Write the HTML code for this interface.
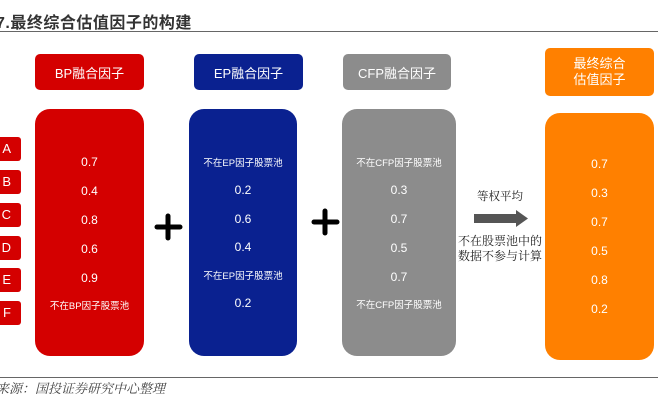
<!DOCTYPE html>
<html><head><meta charset="utf-8"><style>
body{margin:0;width:665px;height:408px;background:#fff;position:relative;overflow:hidden;font-family:"Liberation Sans","Noto Sans CJK SC",sans-serif}
.a{position:absolute}
.t{position:absolute;left:0;width:100%;text-align:center;color:#fff;transform:translateY(-50%);white-space:nowrap}
.v{font-size:12px}
.n{font-size:9.5px}
.hd{position:absolute;color:#fff;font-size:13px;display:flex;align-items:center;justify-content:center;border-radius:5px}
.lb{position:absolute;left:-20px;width:41px;height:24px;background:#d40000;border-radius:3px;color:#fff;font-size:13px;line-height:24px;text-align:right;box-sizing:border-box;padding-right:10px}
</style></head><body>
<div class="a" style="left:-4px;top:9px;font-size:16px;font-weight:bold;color:#333;letter-spacing:0.5px">7.最终综合估值因子的构建</div>
<div class="a" style="left:0;top:31px;width:658px;height:1px;background:#666"></div>

<div class="hd" style="left:35px;top:54px;width:109px;height:36px;background:#d40000">BP融合因子</div>
<div class="hd" style="left:194px;top:54px;width:109px;height:36px;background:#0a2190">EP融合因子</div>
<div class="hd" style="left:343px;top:54px;width:108px;height:36px;background:#8c8c8c">CFP融合因子</div>
<div class="hd" style="left:545px;top:48px;width:109px;height:48px;background:#ff8000;flex-direction:column;line-height:16px">最终综合<br>估值因子</div>

<div class="lb" style="top:137px">A</div>
<div class="lb" style="top:170px">B</div>
<div class="lb" style="top:203px">C</div>
<div class="lb" style="top:236px">D</div>
<div class="lb" style="top:268px">E</div>
<div class="lb" style="top:301px">F</div>

<div class="a" style="left:35px;top:109px;width:109px;height:247px;background:#d40000;border-radius:15px">
<div class="t v" style="top:53px">0.7</div><div class="t v" style="top:82px">0.4</div><div class="t v" style="top:111px">0.8</div><div class="t v" style="top:140px">0.6</div><div class="t v" style="top:169px">0.9</div><div class="t n" style="top:196px">不在BP因子股票池</div></div>

<div class="a" style="left:189px;top:109px;width:108px;height:247px;background:#0a2190;border-radius:15px">
<div class="t n" style="top:53px">不在EP因子股票池</div><div class="t v" style="top:81px">0.2</div><div class="t v" style="top:110px">0.6</div><div class="t v" style="top:138px">0.4</div><div class="t n" style="top:166px">不在EP因子股票池</div><div class="t v" style="top:194px">0.2</div></div>

<div class="a" style="left:342px;top:109px;width:114px;height:247px;background:#8c8c8c;border-radius:15px">
<div class="t n" style="top:53px">不在CFP因子股票池</div><div class="t v" style="top:81px">0.3</div><div class="t v" style="top:110px">0.7</div><div class="t v" style="top:139px">0.5</div><div class="t v" style="top:168px">0.7</div><div class="t n" style="top:195px">不在CFP因子股票池</div></div>

<div class="a" style="left:545px;top:113px;width:109px;height:247px;background:#ff8000;border-radius:15px">
<div class="t v" style="top:51px">0.7</div><div class="t v" style="top:80px">0.3</div><div class="t v" style="top:109px">0.7</div><div class="t v" style="top:138px">0.5</div><div class="t v" style="top:167px">0.8</div><div class="t v" style="top:196px">0.2</div></div>

<svg class="a" style="left:0;top:0" width="665" height="408">
<g stroke="#000" stroke-width="5" stroke-linecap="round"><line x1="157" y1="227" x2="180" y2="227"/><line x1="168" y1="216" x2="168" y2="238"/>
<line x1="314" y1="222" x2="337" y2="222"/><line x1="325" y1="211" x2="325" y2="233"/></g>
<polygon points="474,214 516,214 516,210 528,218.5 516,227 516,223 474,223" fill="#555"/>
</svg>
<div class="a" style="left:460px;top:188px;width:80px;text-align:center;font-size:11.5px;color:#222;font-family:'Noto Serif CJK SC',serif">等权平均</div>
<div class="a" style="left:450px;top:233px;width:100px;text-align:center;font-size:12px;line-height:15px;color:#222;font-family:'Noto Serif CJK SC',serif">不在股票池中的<br>数据不参与计算</div>

<div class="a" style="left:0;top:377px;width:658px;height:1px;background:#666"></div>
<div class="a" style="left:-4px;top:378px;font-size:13px;color:#444;font-style:italic;font-family:'Noto Serif CJK SC',serif">来源：国投证券研究中心整理</div>
</body></html>
